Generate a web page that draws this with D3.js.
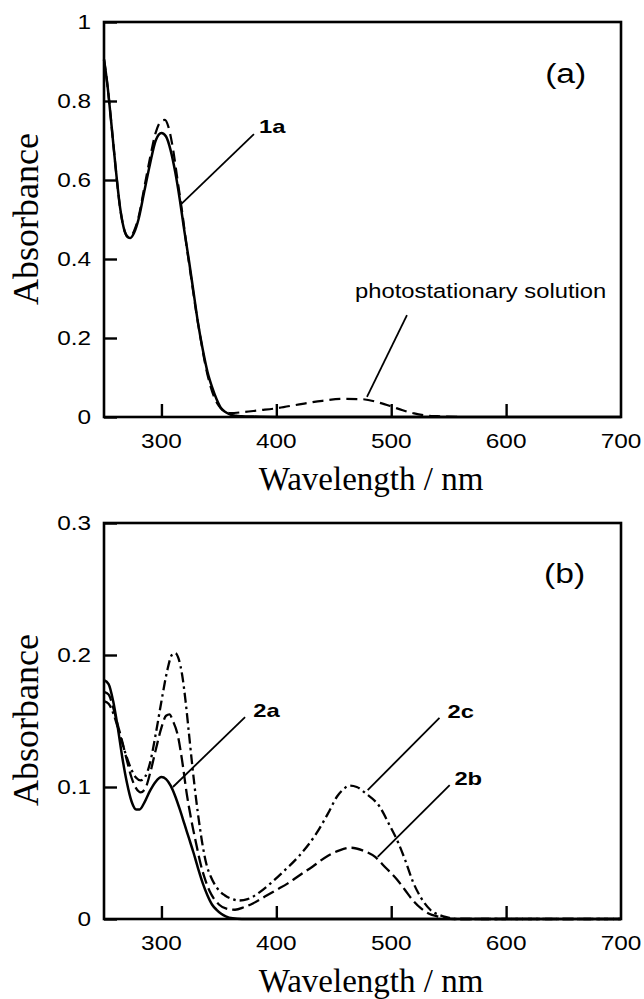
<!DOCTYPE html>
<html>
<head>
<meta charset="utf-8">
<script src="https://cdn.jsdelivr.net/npm/d3@7"></script>
<style>
  body { margin: 0; background: #fff; }
  svg { display: block; }
</style>
</head>
<body>
<script>
// ---- data ----
// panel (a): 1a and photostationary solution
var wl1a  = [250, 253, 256, 260, 264, 268, 271, 273, 276, 280, 285, 290, 295, 300, 304, 308, 312, 316, 320, 324, 328, 332, 336, 340, 344, 348, 352, 356, 360, 365, 370, 380, 400, 500, 600, 700];
var abs1a = [0.905, 0.84, 0.755, 0.635, 0.53, 0.47, 0.455, 0.453, 0.465, 0.50, 0.57, 0.64, 0.70, 0.719, 0.71, 0.675, 0.62, 0.55, 0.47, 0.395, 0.315, 0.235, 0.17, 0.115, 0.076, 0.045, 0.022, 0.012, 0.006, 0.003, 0.002, 0.001, 0, 0, 0, 0];

var wlPs  = [250, 253, 256, 260, 264, 268, 271, 273, 276, 280, 285, 290, 295, 300, 303, 306, 310, 314, 318, 322, 326, 330, 334, 338, 342, 346, 350, 355, 360, 370, 385, 400, 420, 440, 458, 475, 490, 500, 510, 520, 530, 540, 560];
var absPs = [0.905, 0.84, 0.755, 0.635, 0.53, 0.47, 0.455, 0.455, 0.47, 0.505, 0.58, 0.655, 0.72, 0.75, 0.752, 0.735, 0.68, 0.6, 0.52, 0.43, 0.35, 0.27, 0.2, 0.135, 0.085, 0.05, 0.028, 0.014, 0.01, 0.012, 0.017, 0.022, 0.032, 0.041, 0.046, 0.045, 0.036, 0.027, 0.017, 0.009, 0.004, 0.002, 0.0005];

// panel (b): 2a, 2b, 2c
var wl2a  = [250, 254, 258, 262, 266, 270, 274, 278, 281, 285, 290, 295, 300, 304, 308, 312, 316, 320, 324, 328, 332, 336, 340, 344, 348, 352, 356, 362, 370, 700];
var abs2a = [0.181, 0.178, 0.165, 0.145, 0.122, 0.103, 0.089, 0.083, 0.083, 0.088, 0.097, 0.104, 0.1075, 0.106, 0.101, 0.093, 0.083, 0.072, 0.061, 0.05, 0.038, 0.027, 0.018, 0.011, 0.007, 0.004, 0.002, 0.0005, 0, 0];

var wl2b  = [250, 254, 258, 262, 266, 270, 274, 278, 282, 286, 290, 295, 300, 304, 307, 310, 314, 318, 322, 326, 330, 334, 338, 342, 346, 350, 356, 364, 372, 380, 390, 400, 410, 420, 432, 445, 455, 465, 475, 486, 495, 505, 512, 519, 526, 533, 540, 548, 555, 700];
var abs2b = [0.172, 0.170, 0.16, 0.147, 0.134, 0.12, 0.107, 0.099, 0.096, 0.099, 0.11, 0.128, 0.145, 0.154, 0.155, 0.15, 0.14, 0.12, 0.095, 0.075, 0.058, 0.042, 0.03, 0.021, 0.015, 0.011, 0.008, 0.007, 0.009, 0.012, 0.017, 0.022, 0.027, 0.033, 0.040, 0.048, 0.052, 0.054, 0.052, 0.047, 0.039, 0.03, 0.022, 0.014, 0.008, 0.004, 0.002, 0.0005, 0, 0];

var wl2c  = [250, 254, 258, 262, 266, 270, 274, 278, 282, 286, 290, 295, 300, 305, 309, 312, 315, 318, 321, 324, 327, 330, 333, 336, 339, 343, 348, 355, 362, 368, 375, 385, 395, 405, 420, 435, 445, 453, 458, 464, 470, 478, 490, 498, 506, 512, 519, 526, 534, 542, 550, 556, 700];
var abs2c = [0.165, 0.163, 0.156, 0.145, 0.133, 0.122, 0.113, 0.107, 0.105, 0.108, 0.118, 0.14, 0.165, 0.188, 0.2, 0.2015, 0.197, 0.185, 0.165, 0.14, 0.115, 0.092, 0.072, 0.055, 0.042, 0.032, 0.024, 0.018, 0.015, 0.014, 0.015, 0.02, 0.027, 0.035, 0.048, 0.065, 0.08, 0.093, 0.098, 0.101, 0.1, 0.095, 0.085, 0.072, 0.058, 0.045, 0.028, 0.016, 0.007, 0.003, 0.001, 0, 0];

// axes
var xTicks = [300, 400, 500, 600];
var xTickLabels = [300, 400, 500, 600, 700];
var yTicksA = [0, 0.2, 0.4, 0.6, 0.8, 1];
var yTicksB = [0, 0.1, 0.2, 0.3];

var svg = d3.select("body").append("svg")
    .attr("width", 644)
    .attr("height", 999);

var fmt = d3.format("~g");
var STRETCH = 1.25;

// sans text is drawn a bit wide, like in the scan
function sansText(x, y, str, size, anchor, weight, stretch) {
  return svg.append("text")
      .attr("transform", "translate(" + x + "," + y + ") scale(" + (stretch || STRETCH) + ",1)")
      .attr("text-anchor", anchor || "start")
      .style("font-family", "'Liberation Sans', Arial, sans-serif")
      .style("font-size", size + "px")
      .style("font-weight", weight || "normal")
      .text(str);
}

function panel(top, bottom, yMax, yTicks) {
  var x = d3.scaleLinear().domain([250, 700]).range([104, 621]);
  var y = d3.scaleLinear().domain([0, yMax]).range([bottom, top]);

  // frame
  svg.append("rect")
      .attr("x", 104).attr("y", top)
      .attr("width", 621 - 104).attr("height", bottom - top)
      .attr("fill", "none").attr("stroke", "#000").attr("stroke-width", 2.6);

  // inward ticks
  var xAxis = d3.axisBottom(x).tickValues(xTicks).tickSizeInner(-13).tickSizeOuter(0).tickFormat("");
  var yAxis = d3.axisLeft(y).tickValues(yTicks).tickSizeInner(-13).tickSizeOuter(0).tickFormat("");
  var gx = svg.append("g").attr("transform", "translate(0," + bottom + ")").call(xAxis);
  var gy = svg.append("g").attr("transform", "translate(104,0)").call(yAxis);
  [gx, gy].forEach(function(g) {
    g.select(".domain").remove();
    g.selectAll(".tick line").attr("stroke", "#000").attr("stroke-width", 2.4);
  });

  // tick labels
  xTickLabels.forEach(function(v) {
    sansText(x(v), bottom + 31, fmt(v), 19.5, "middle");
  });
  yTicks.forEach(function(v) {
    sansText(91, y(v) + 7, fmt(v), 19.5, "end");
  });

  // axis titles
  svg.append("text")
      .attr("transform", "translate(371," + (bottom + 73) + ")")
      .attr("text-anchor", "middle")
      .style("font-family", "'Liberation Serif', 'Times New Roman', serif")
      .style("font-size", "33px")
      .text("Wavelength / nm");
  svg.append("text")
      .attr("transform", "translate(38," + (top + 197) + ") rotate(-90)")
      .attr("text-anchor", "middle")
      .style("font-family", "'Liberation Serif', 'Times New Roman', serif")
      .style("font-size", "36px")
      .text("Absorbance");

  return {x: x, y: y};
}

function curve(sc, wl, ab, dash, width) {
  var pts = wl.map(function(w, i) { return [w, ab[i]]; });
  var line = d3.line()
      .x(function(d) { return sc.x(d[0]); })
      .y(function(d) { return sc.y(d[1]); })
      .curve(d3.curveMonotoneX);
  svg.append("path")
      .datum(pts)
      .attr("d", line)
      .attr("fill", "none")
      .attr("stroke", "#000")
      .attr("stroke-width", width || 2.3)
      .attr("stroke-dasharray", dash || null)
      .attr("stroke-linejoin", "round");
}

function leader(sc, x1, y1, x2, y2) {
  svg.append("line")
      .attr("x1", sc.x(x1)).attr("y1", sc.y(y1))
      .attr("x2", sc.x(x2)).attr("y2", sc.y(y2))
      .attr("stroke", "#000").attr("stroke-width", 1.8);
}

// ---- panel (a) ----
var a = panel(22, 417, 1, yTicksA);
curve(a, wlPs, absPs, "11,6", 2.2);
curve(a, wl1a, abs1a, null, 2.5);

leader(a, 317.6, 0.54, 380.5, 0.716);
sansText(a.x(385), a.y(0.72), "1a", 19, "start", "bold", 1.25);

leader(a, 478.9, 0.051, 513.7, 0.258);
sansText(a.x(468.5), a.y(0.301), "photostationary solution", 19.5, "start", "normal", 1.22);

sansText(a.x(634), a.y(0.846), "(a)", 28, "start", "normal", 1.2);

// ---- panel (b) ----
var b = panel(523, 919, 0.3, yTicksB);
curve(b, wl2c, abs2c, "10,4,2.5,4", 2.3);
curve(b, wl2b, abs2b, "12,5", 2.3);
curve(b, wl2a, abs2a, null, 2.5);

leader(b, 310, 0.1, 372.8, 0.1530);
sansText(b.x(380), b.y(0.1530), "2a", 19, "start", "bold", 1.25);

leader(b, 479.5, 0.0977, 542, 0.1523);
sansText(b.x(549), b.y(0.1523), "2c", 19, "start", "bold", 1.25);

leader(b, 488.2, 0.0470, 550.9, 0.1015);
sansText(b.x(555), b.y(0.1015), "2b", 19, "start", "bold", 1.25);

sansText(b.x(633), b.y(0.2545), "(b)", 28, "start", "normal", 1.2);
</script>
</body>
</html>
